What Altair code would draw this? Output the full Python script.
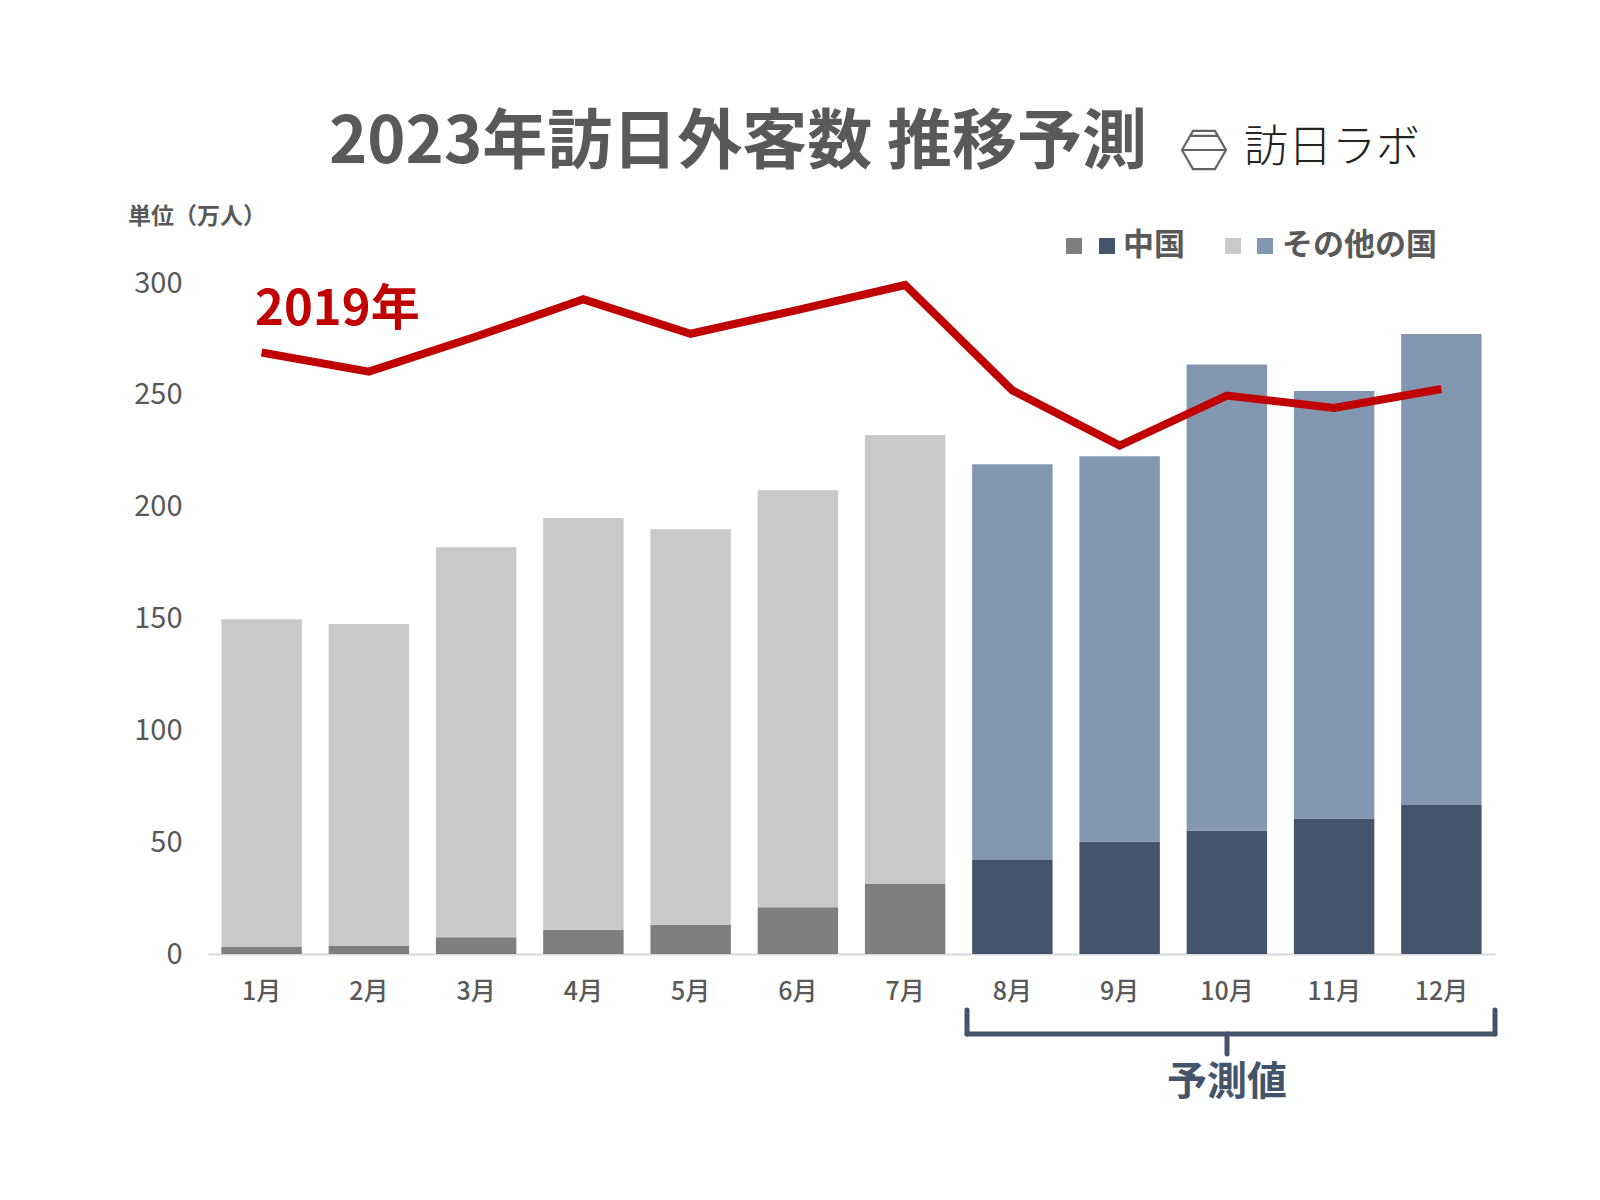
import altair as alt
import pandas as pd

months = ["1月", "2月", "3月", "4月", "5月", "6月", "7月", "8月", "9月", "10月", "11月", "12月"]
china = [3.1, 3.6, 7.5, 10.8, 13.1, 20.9, 31.3, 42.0, 50.2, 55.2, 60.6, 66.6]
total = [149.7, 147.5, 181.8, 194.9, 189.9, 207.3, 232.0, 219.0, 222.5, 263.6, 251.7, 277.2]
visitors_2019 = [268.9, 260.4, 276.1, 292.7, 277.3, 288.0, 299.1, 252.0, 227.3, 249.7, 244.1, 252.6]
is_forecast = [False] * 7 + [True] * 5

seg_keys = ["中国_実績", "その他_実績", "中国_予測", "その他_予測"]
seg_colors = ["#7f7f7f", "#c9c9c9", "#44546a", "#8497b0"]

rows = []
for m, c, t, f in zip(months, china, total, is_forecast):
    kind = "予測" if f else "実績"
    rows.append({"month": m, "key": "中国_" + kind, "value": c, "ord": 0})
    rows.append({"month": m, "key": "その他_" + kind, "value": round(t - c, 1), "ord": 1})
bars_df = pd.DataFrame(rows)
line_df = pd.DataFrame({"month": months, "value": visitors_2019})

FONT = "Noto Sans CJK JP"
GRAY = "#595959"
NAVY = "#44546a"

x_enc = alt.X(
    "month:N", sort=months, title=None,
    scale=alt.Scale(paddingInner=0.25, paddingOuter=0.125),
    axis=alt.Axis(labelAngle=0, ticks=False, domainColor="#d9d9d9", domainWidth=2,
                  labelColor=GRAY, labelFontSize=25, labelFont=FONT, labelPadding=25,
                  labelFontWeight=500, grid=False),
)
y_scale = alt.Scale(domain=[0, 300], nice=False)

bars = alt.Chart(bars_df).mark_bar().encode(
    x=x_enc,
    y=alt.Y("value:Q", stack="zero", scale=y_scale, title=None,
            axis=alt.Axis(values=[0, 50, 100, 150, 200, 250, 300], ticks=False, domain=False,
                          grid=False, labelColor=GRAY, labelFontSize=29, labelFont=FONT,
                          labelPadding=26, labelFontWeight="normal")),
    color=alt.Color("key:N", scale=alt.Scale(domain=seg_keys, range=seg_colors), legend=None),
    order=alt.Order("ord:Q"),
)

line = alt.Chart(line_df).mark_line(color="#c00000", strokeWidth=8, strokeJoin="miter").encode(
    x=alt.X("month:N", sort=months),
    y=alt.Y("value:Q", scale=y_scale),
)

def label(text, x, y, size, color, weight="bold", align="center", baseline="middle"):
    return alt.Chart(pd.DataFrame({"t": [text]})).mark_text(
        font=FONT, fontSize=size, color=color, fontWeight=weight, align=align, baseline=baseline
    ).encode(text="t:N", x=alt.value(x), y=alt.value(y))

title = label("2023年訪日外客数 推移予測", 530, -140, 65, GRAY)
logo_text = label("訪日ラボ", 1124, -134, 44, "#222222", weight=200)
hex_path = "M-1,0L-0.5,-0.87L0.5,-0.87L1,0L0.5,0.87L-0.5,0.87ZM-1,0L1,0M-0.62,-0.64L0.62,-0.64"
logo_hex = alt.Chart(pd.DataFrame({"t": [1]})).mark_point(
    shape=hex_path, filled=False, stroke="#222222", strokeWidth=2.2, size=1936
).encode(x=alt.value(996), y=alt.value(-133))

unit = label("単位（万人）", -80, -66, 23, GRAY, align="left")
tag2019 = label("2019年", 47, 27, 49, "#c00000", align="left")

def square(x, y, color):
    return alt.Chart(pd.DataFrame({"t": [1]})).mark_square(size=256, color=color, opacity=1).encode(
        x=alt.value(x), y=alt.value(y))

legend_layers = [
    square(866, -37, "#7f7f7f"), square(899, -37, NAVY),
    label("中国", 915, -37, 31, GRAY, align="left"),
    square(1025, -37, "#c9c9c9"), square(1057, -37, "#8497b0"),
    label("その他の国", 1074, -37, 31, GRAY, align="left"),
]

def rule(x, x2, y, y2):
    return alt.Chart(pd.DataFrame({"t": [1]})).mark_rule(
        color=NAVY, strokeWidth=5, strokeCap="round").encode(
        x=alt.value(x), x2=alt.value(x2), y=alt.value(y), y2=alt.value(y2))

bracket = [
    rule(759, 759, 727, 751),
    rule(1287, 1287, 727, 751),
    rule(759, 1287, 751, 751),
    rule(1019, 1019, 751, 771),
]
forecast_label = label("予測値", 1019, 800, 40, NAVY)

chart = alt.layer(
    bars, line, title, logo_hex, logo_text, unit, tag2019, *legend_layers, *bracket, forecast_label
).properties(
    width=1287, height=671,
    autosize=alt.AutoSizeParams(type="none"),
    padding={"left": 200, "top": 275, "right": 90, "bottom": 230},
    background="white",
).configure_view(stroke=None)

chart.save("out.html", embed_options={"renderer": "svg", "actions": False})
